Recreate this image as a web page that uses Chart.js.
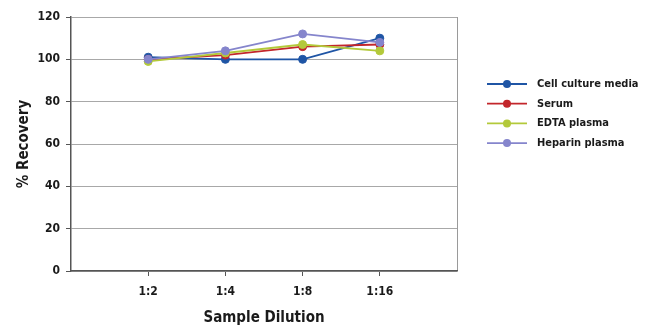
<!DOCTYPE html>
<html>
<head>
<meta charset="utf-8">
<script src="https://cdn.jsdelivr.net/npm/chart.js@4.4.1/dist/chart.umd.min.js"></script>
<style>
  html, body { margin: 0; padding: 0; background: #fff; }
  #wrap { width: 650px; height: 336px; }
</style>
</head>
<body>
<div id="wrap"><canvas id="grafico"></canvas></div>
<script>
// datos
const diluciones = ['1:2', '1:4', '1:8', '1:16'];
const cellCulture = [101, 100, 100, 110];
const serum = [100, 102, 106, 107];
const edtaPlasma = [99, 103, 107, 104];
const heparinPlasma = [100, 104, 112, 108];
const yTicks = [0, 20, 40, 60, 80, 100, 120];

const nombres = ['Cell culture media', 'Serum', 'EDTA plasma', 'Heparin plasma'];
const colores = ['#1f55a5', '#c3262b', '#b3c93a', '#8585cc'];
const series = [cellCulture, serum, edtaPlasma, heparinPlasma];

const fuente = "'DejaVu Sans Condensed', 'Liberation Sans Narrow', sans-serif";

// etiquetas con un hueco vacio a cada lado
const etiquetas = [''].concat(diluciones, ['']);

const datasets = series.map((valores, i) => ({
    label: nombres[i],
    data: [null].concat(valores, [null]),
    borderColor: colores[i],
    backgroundColor: colores[i],
    borderWidth: 1.8,
    pointRadius: 4,
    pointBorderWidth: 1,
    pointBorderColor: colores[i],
    tension: 0,
    order: series.length - i
}));

// leyenda propia a la derecha
const leyenda = {
    id: 'leyenda',
    afterDraw(chart) {
        const c = chart.ctx;
        c.save();
        c.font = "bold 11px " + fuente;
        c.textBaseline = 'middle';
        nombres.forEach((n, i) => {
            const y = 84 + i * 19.7;
            c.strokeStyle = colores[i];
            c.lineWidth = 1.8;
            c.beginPath();
            c.moveTo(487, y);
            c.lineTo(527, y);
            c.stroke();
            c.fillStyle = colores[i];
            c.beginPath();
            c.arc(507, y, 4, 0, Math.PI * 2);
            c.fill();
            c.fillStyle = '#1a1a1a';
            c.fillText(n, 537, y);
        });
        c.restore();
    }
};

new Chart(document.getElementById('grafico').getContext('2d'), {
    type: 'line',
    data: { labels: etiquetas, datasets: datasets },
    options: {
        responsive: true,
        maintainAspectRatio: false,
        animation: false,
        layout: { padding: { top: 17, right: 193, left: 15, bottom: 0 } },
        plugins: {
            legend: { display: false },
            tooltip: { enabled: false }
        },
        scales: {
            x: {
                offset: false,
                afterFit(scale) { scale.height = 65; },
                grid: {
                    color: ctx => ctx.index === etiquetas.length - 1 ? '#9a9a9a' : 'rgba(0,0,0,0)',
                    tickColor: ctx => (ctx.index > 0 && ctx.index < etiquetas.length - 1) ? '#555' : 'rgba(0,0,0,0)',
                    tickLength: 5,
                    lineWidth: 1
                },
                border: { color: '#555', width: 1.5 },
                ticks: {
                    color: '#1a1a1a',
                    font: { family: fuente, size: 12, weight: 'bold' },
                    padding: 9,
                    maxRotation: 0,
                    autoSkip: false
                },
                title: {
                    display: true,
                    text: 'Sample Dilution',
                    color: '#1a1a1a',
                    font: { family: fuente, size: 15, weight: 'bold' },
                    padding: { top: 6, bottom: 9 }
                }
            },
            y: {
                min: 0,
                max: 120,
                afterFit(scale) { scale.width = 56; },
                afterBuildTicks(scale) { scale.ticks = yTicks.map(v => ({ value: v })); },
                grid: {
                    color: '#a8a8a8',
                    tickColor: '#555',
                    tickLength: 5,
                    lineWidth: 1
                },
                border: { color: '#555', width: 1.5 },
                ticks: {
                    color: '#1a1a1a',
                    font: { family: fuente, size: 12, weight: 'bold' },
                    padding: 6
                },
                title: {
                    display: true,
                    text: '% Recovery',
                    color: '#1a1a1a',
                    font: { family: fuente, size: 15, weight: 'bold' },
                    padding: { top: 0, bottom: 0 }
                }
            }
        }
    },
    plugins: [leyenda]
});
</script>
</body>
</html>
